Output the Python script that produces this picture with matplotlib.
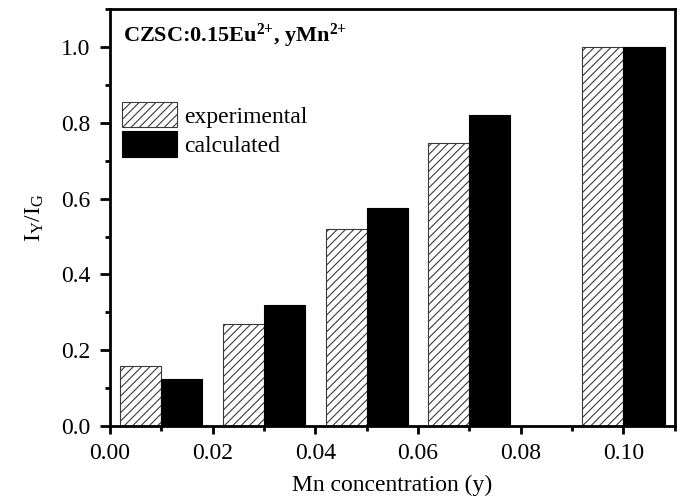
import matplotlib
matplotlib.use("Agg")
import matplotlib.pyplot as plt
from matplotlib.ticker import MultipleLocator

# Mn content y and normalised intensity ratio I_Y/I_G
mn_conc = [0.01, 0.03, 0.05, 0.07, 0.10]
experimental = [0.159, 0.269, 0.521, 0.746, 1.0]
calculated = [0.125, 0.320, 0.576, 0.821, 1.0]

plt.rcParams["font.family"] = "Liberation Serif"
plt.rcParams["mathtext.fontset"] = "custom"
plt.rcParams["mathtext.rm"] = "Liberation Serif"
plt.rcParams["mathtext.it"] = "Liberation Serif:italic"
plt.rcParams["mathtext.bf"] = "Liberation Serif:bold"
plt.rcParams["hatch.linewidth"] = 0.8

fig = plt.figure(figsize=(6.83, 4.99), dpi=100)
ax = fig.add_axes([0.161, 0.1465, 0.827, 0.835])

bw = 0.008
ax.bar([x - bw for x in mn_conc], experimental, width=bw, align="edge",
       facecolor="white", edgecolor="#3a3a3a", linewidth=0.8, hatch="////",
       label="experimental")
ax.bar(mn_conc, calculated, width=bw, align="edge",
       facecolor="black", edgecolor="black", linewidth=0.8,
       label="calculated")

ax.set_xlim(0, 0.11)
ax.set_ylim(0, 1.1)
ax.xaxis.set_major_locator(MultipleLocator(0.02))
ax.xaxis.set_minor_locator(MultipleLocator(0.01))
ax.yaxis.set_major_locator(MultipleLocator(0.2))
ax.yaxis.set_minor_locator(MultipleLocator(0.1))
ax.xaxis.set_major_formatter(lambda v, p: f"{v:.2f}")
ax.yaxis.set_major_formatter(lambda v, p: f"{v:.1f}")

for s in ax.spines.values():
    s.set_linewidth(2.0)
ax.tick_params(which="major", direction="out", width=2, labelsize=17)
ax.tick_params(axis="x", which="major", length=6, pad=6)
ax.tick_params(axis="y", which="major", length=7, pad=7)
ax.tick_params(which="minor", direction="out", length=3.5, width=2)

ax.set_xlabel("Mn concentration (y)", fontsize=17, labelpad=8)
ax.set_ylabel(r"$\mathregular{I_Y/I_G}$", fontsize=17, labelpad=11)

ax.text(0.023, 0.97, r"CZSC:0.15Eu$^{\mathbf{2{+}}}$, yMn$^{\mathbf{2{+}}}$",
        transform=ax.transAxes, fontsize=16, fontweight="bold",
        ha="left", va="top")

ax.legend(loc="upper left", bbox_to_anchor=(0.022, 0.778), frameon=False,
          fontsize=17, handlelength=2.3, handleheight=1.3, handletextpad=0.3,
          labelspacing=0.15, borderpad=0, borderaxespad=0)

fig.savefig("out.png", dpi=100)
